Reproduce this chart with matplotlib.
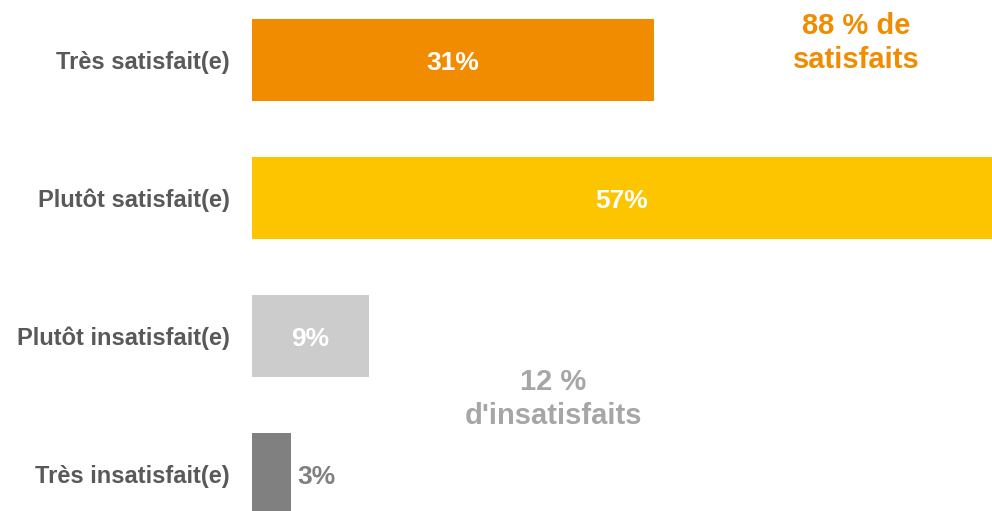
import matplotlib
matplotlib.use("Agg")
import matplotlib.pyplot as plt

categories = ["Très satisfait(e)", "Plutôt satisfait(e)", "Plutôt insatisfait(e)", "Très insatisfait(e)"]
values = [31, 57, 9, 3]
colors = ["#F18C00", "#FDC400", "#CCCCCC", "#808080"]
label_colors = ["white", "white", "white", "#808080"]
summary_satisfied = "88 % de\nsatisfaits"
summary_unsatisfied = "12 %\nd'insatisfaits"

plt.rcParams["font.family"] = ["Liberation Sans", "DejaVu Sans"]

W, H = 992, 511
fig = plt.figure(figsize=(W / 100, H / 100), dpi=100)
ax = fig.add_axes([252 / W, 0, 1 - 252 / W, 1])

ypos = list(range(len(categories)))
ax.barh(ypos, values, height=0.594, color=colors)
ax.set_xlim(0, max(values))
ax.set_ylim(3.268, -0.435)

for y, v, c in zip(ypos, values, label_colors):
    if c == "white":
        ax.text(v / 2, y + 0.02, f"{v}%", ha="center", va="center",
                fontsize=19, fontweight="bold", color=c)
    else:
        ax.text(v + 0.5, y + 0.02, f"{v}%", ha="left", va="center",
                fontsize=19, fontweight="bold", color=c)

ax.set_yticks(ypos)
ax.set_yticklabels(categories, fontsize=17, fontweight="bold", color="#595959")
ax.tick_params(axis="y", length=0, pad=16)
ax.set_xticks([])
for s in ax.spines.values():
    s.set_visible(False)

fig.text(856 / W, 1 - 43 / H, summary_satisfied, ha="center", va="center",
         fontsize=21, fontweight="bold", color="#F18C00", linespacing=1.27)
fig.text(553 / W, 1 - 399 / H, summary_unsatisfied, ha="center", va="center",
         fontsize=21, fontweight="bold", color="#A6A6A6", linespacing=1.27)

fig.savefig("out.png", dpi=100)
